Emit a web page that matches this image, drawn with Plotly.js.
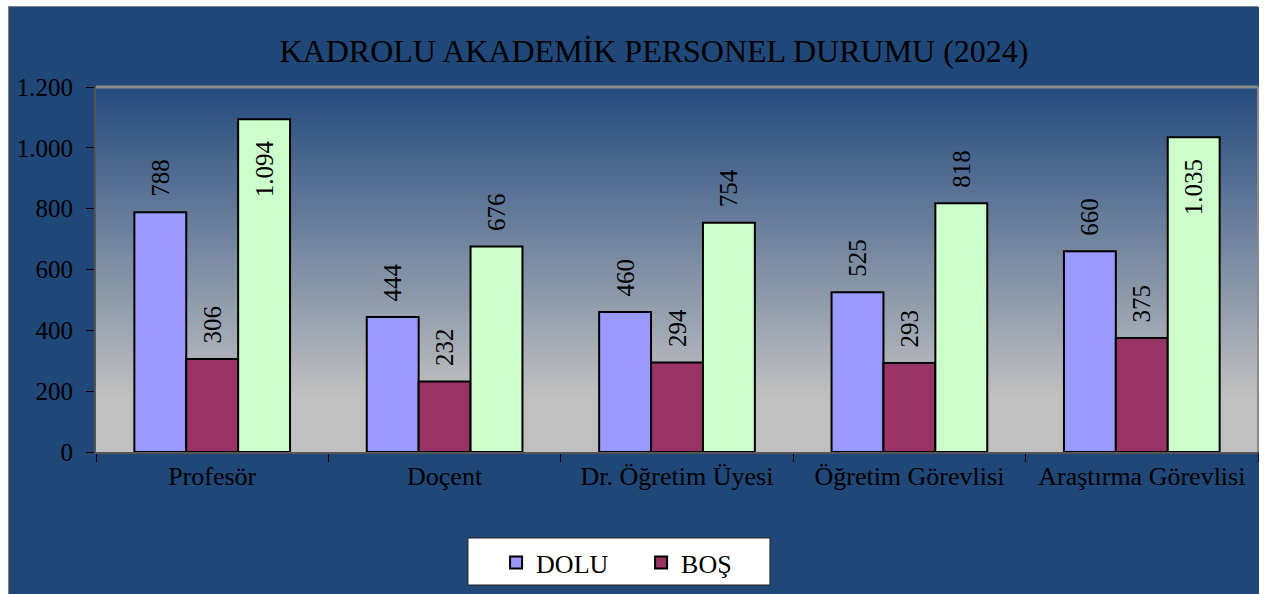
<!DOCTYPE html>
<html><head><meta charset="utf-8">
<script src="https://cdn.plot.ly/plotly-3.0.1.min.js"></script>
<style>
html,body{margin:0;padding:0;background:#fff;overflow:hidden;width:1264px;height:594px;}
#chart{position:absolute;left:8px;top:6px;width:1250px;height:590px;box-sizing:border-box;border:1px solid #808080;border-bottom:none;}
</style></head><body>
<div id="chart"></div>
<script>
const categories = ['Profesör','Doçent','Dr. Öğretim Üyesi','Öğretim Görevlisi','Araştırma Görevlisi'];
const dolu = [788, 444, 460, 525, 660];
const bos = [306, 232, 294, 293, 375];
const toplam = [1094, 676, 754, 818, 1035];
const yTicks = [0, 200, 400, 600, 800, 1000, 1200];

const font = 'Liberation Serif, Times New Roman, serif';
const lbl = {family: font, size: 25, color: '#000'};
const NB = '\u00a0';

function mk(name, y, color, show, pos) {
  pos = pos || y.map(() => 'outside');
  return {
    type: 'bar', name: name, x: categories, y: y, showlegend: show,
    marker: {color: color, line: {color: '#000', width: 2}},
    texttemplate: pos.map(p => p === 'inside' ? '%{y:,d}' + NB + NB + NB : NB + NB + '%{y:,d}'),
    textangle: -90,
    textposition: pos, insidetextanchor: 'end',
    textfont: lbl, outsidetextfont: lbl, insidetextfont: lbl,
    constraintext: 'none', cliponaxis: false, hoverinfo: 'x+y'
  };
}
const posTop = toplam.map(v => v > 1000 ? 'inside' : 'outside');
const traces = [
  mk('DOLU', dolu, '#9999FF', true),
  mk('BOŞ', bos, '#993366', true),
  mk('TOPLAM', toplam, '#CCFFCC', false, posTop)
];

// gradient plot background as bands
function lerp(a, b, t) { return Math.round(a + (b - a) * t); }
const c0 = [0x24, 0x4A, 0x7E], c1 = [0xC0, 0xC0, 0xC0];
const shapes = [];
const N = 90;
for (let i = 0; i < N; i++) {
  const yTop = 1 - i / N, yBot = 1 - (i + 1) / N;
  let t = (i + 0.5) / N / 0.85; if (t > 1) t = 1;
  const c = c0.map((v, k) => lerp(v, c1[k], t));
  shapes.push({type: 'rect', xref: 'paper', yref: 'paper', x0: 0, x1: 1, y0: yBot, y1: yTop + 0.002,
    fillcolor: `rgb(${c[0]},${c[1]},${c[2]})`, line: {width: 0}, layer: 'below'});
}
shapes.push({type: 'line', xref: 'paper', yref: 'paper', x0: 0, x1: 1, y0: 1, y1: 1, line: {color: '#8a8a8a', width: 3}});
shapes.push({type: 'line', xref: 'paper', yref: 'paper', x0: 1, x1: 1, y0: 0, y1: 1, line: {color: '#8a8a8a', width: 2}});
// legend frame
shapes.push({type: 'rect', xref: 'paper', yref: 'paper', x0: 0.3201, x1: 0.5800, y0: -0.3644, y1: -0.2356,
  fillcolor: '#FFFFFF', line: {color: '#222', width: 1}, layer: 'below'});

const layout = {
  width: 1250, height: 590,
  margin: {l: 87, r: 1, t: 80, b: 145},
  paper_bgcolor: '#1F4778', plot_bgcolor: '#C0C0C0',
  separators: ',.',
  title: {text: 'KADROLU AKADEMİK PERSONEL DURUMU (2024)', font: {family: font, size: 32, color: '#000'},
    x: 0.516, xref: 'container', xanchor: 'center', y: 0.925, yref: 'container', yanchor: 'middle'},
  barmode: 'group', bargap: 0.33, bargroupgap: 0,
  xaxis: {type: 'category', tickson: 'boundaries', ticks: 'outside', ticklen: 8, tickcolor: '#000', tickwidth: 1,
    showline: true, linecolor: '#555', linewidth: 2, showgrid: false,
    tickfont: {family: font, size: 26, color: '#000'}, fixedrange: true},
  yaxis: {range: [0, 1200], tickvals: yTicks, tickformat: ',d', ticks: 'outside', ticklen: 8, tickcolor: '#000',
    showline: true, linecolor: '#555', linewidth: 2, showgrid: false, zeroline: false,
    tickfont: {family: font, size: 25, color: '#000'}, ticklabelstandoff: 8, fixedrange: true},
  showlegend: true,
  legend: {orientation: 'h', x: 0.3443, xanchor: 'left', y: -0.2384, yanchor: 'top',
    bgcolor: 'rgba(0,0,0,0)', borderwidth: 0, entrywidth: 100,
    font: {family: font, size: 26, color: '#000'}, itemwidth: 30, traceorder: 'normal'},
  shapes: shapes
};
Plotly.newPlot('chart', traces, layout, {displayModeBar: false, staticPlot: true});
</script>
</body></html>
